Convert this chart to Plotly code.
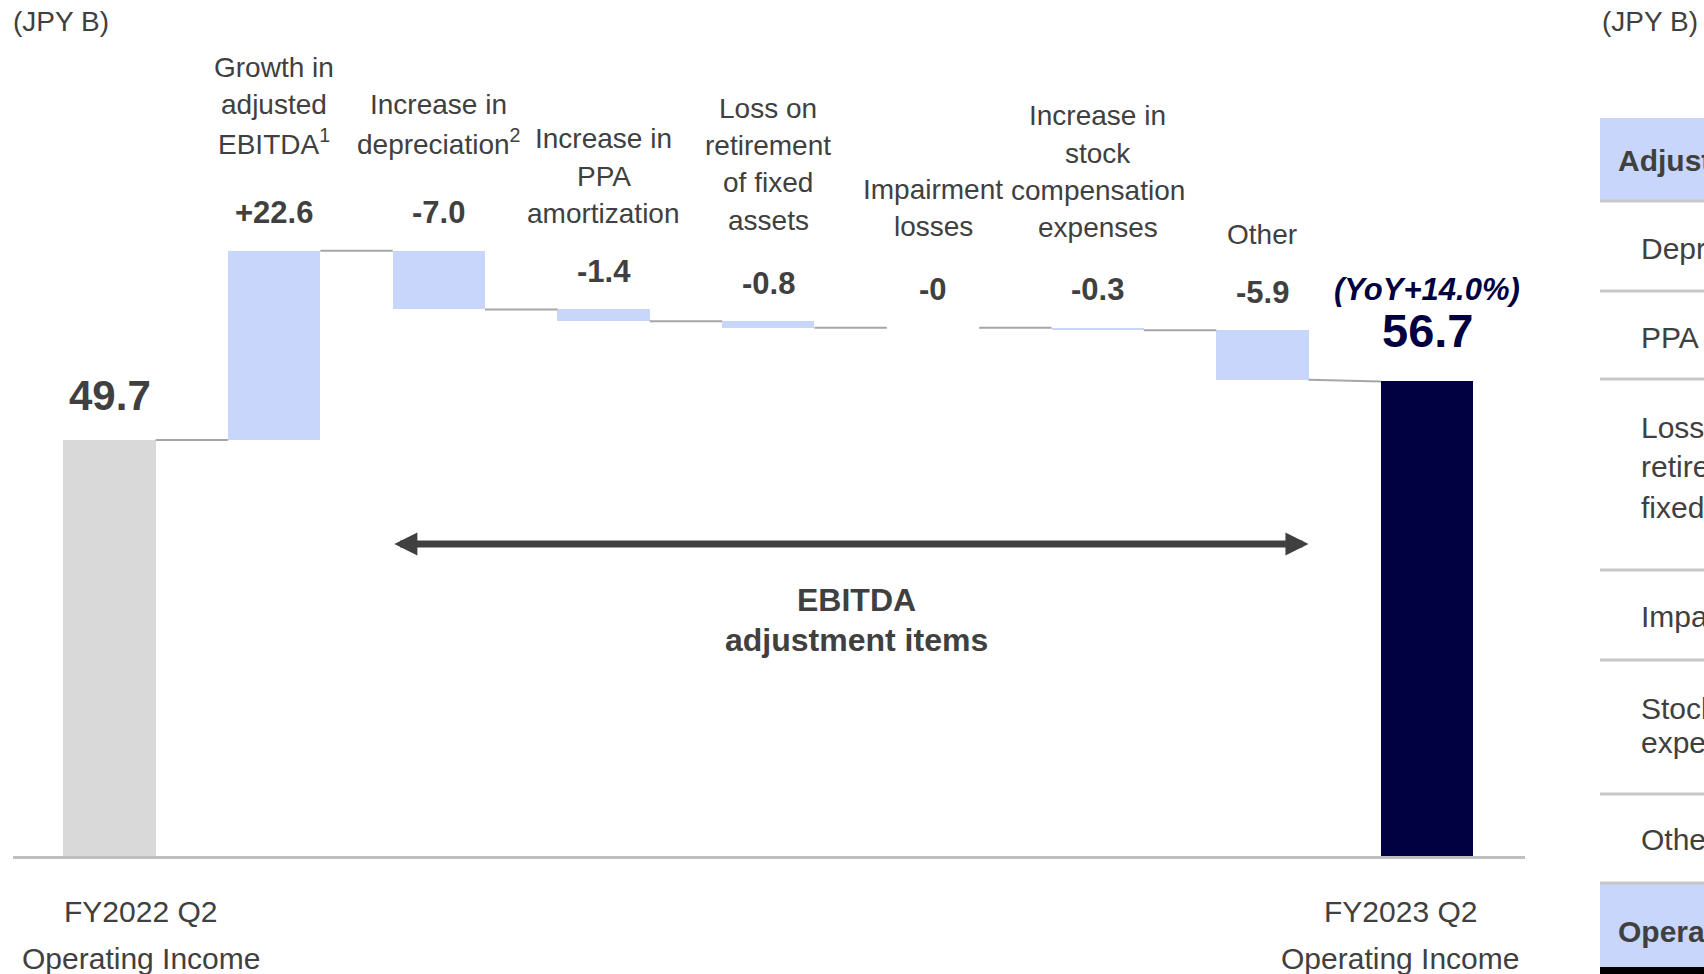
import numpy as np
import plotly.graph_objects as go

# ---------------- data (JPY B) ----------------
start_label = ["FY2022 Q2", "Operating Income"]
end_label = ["FY2023 Q2", "Operating Income"]
start_value = 49.7
end_value = 56.7
yoy_text = "(YoY+14.0%)"

bridge_labels = [
    ["Growth in", "adjusted", "EBITDA<sup>1</sup>"],
    ["Increase in", "depreciation<sup>2</sup>"],
    ["Increase in", "PPA", "amortization"],
    ["Loss on", "retirement", "of fixed", "assets"],
    ["Impairment", "losses"],
    ["Increase in", "stock", "compensation", "expenses"],
    ["Other"],
]
bridge_values = [22.6, -7.0, -1.4, -0.8, 0.0, -0.3, -5.9]
bridge_value_text = ["+22.6", "-7.0", "-1.4", "-0.8", "-0", "-0.3", "-5.9"]

unit_text = "(JPY B)"
table_header = "Adjusted EBITDA"
table_rows = [
    ["Depreciation"],
    ["PPA amortization"],
    ["Loss on", "retirement of", "fixed assets"],
    ["Impairment losses"],
    ["Stock compensation", "expenses"],
    ["Other"],
]
table_footer = "Operating income"

# ---------------- styling / geometry ----------------
W, H = 1704, 974
FONT = "Liberation Sans, Arial, sans-serif"
TXT = "#404040"
NAVY = "#000040"
GREY_BAR = "#d9d9d9"
BLUE_BAR = "#c9d6fc"
CONNECT = "#a6a6a6"
RULE = "#c8c8c8"

PLOT_L, PLOT_R = 13, 1525          # horizontal extent of the bridge axis (px)
BASE_PX = 856                      # pixel row of the zero line
PX_PER_UNIT = 8.37
FIRST_CENTER_PX = 109.5
CAT_STEP_PX = 164.7
BAR_W = 0.56

x_lo = -(FIRST_CENTER_PX - PLOT_L) / CAT_STEP_PX
x_hi = x_lo + (PLOT_R - PLOT_L) / CAT_STEP_PX
y_hi = BASE_PX / PX_PER_UNIT


def px_to_y(py):
    return (BASE_PX - py) / PX_PER_UNIT


def paper_x(px):
    return (px - PLOT_L) / (PLOT_R - PLOT_L)


def paper_y(py):
    return (BASE_PX - py) / BASE_PX


# ---------------- waterfall geometry ----------------
vals = np.array(bridge_values)
levels = start_value + np.cumsum(vals)
prev = np.concatenate([[start_value], levels[:-1]])

n = len(vals) + 2
xs = list(range(n))
heights = [start_value] + list(vals) + [end_value]
bases = [0] + list(prev) + [0]
colors = [GREY_BAR] + [BLUE_BAR] * len(vals) + [NAVY]

fig = go.Figure()
fig.add_trace(go.Bar(
    x=xs, y=heights, base=bases, width=BAR_W,
    marker=dict(color=colors, line=dict(width=0)),
    hoverinfo="skip",
))

# connector lines between consecutive bars
bar_end = [start_value] + list(levels)
bar_start_next = list(prev) + [end_value]
cx, cy = [], []
for i in range(n - 1):
    cx += [i + BAR_W / 2, i + 1 - BAR_W / 2, None]
    cy += [bar_end[i], bar_start_next[i], None]
fig.add_trace(go.Scatter(x=cx, y=cy, mode="lines",
                         line=dict(color=CONNECT, width=2), hoverinfo="skip"))

ann = []

# value labels over the bridge bars
tops = np.maximum(prev, levels)
for k, (t, lab) in enumerate(zip(tops, bridge_value_text)):
    ann.append(dict(x=k + 1, y=t, xref="x", yref="y", text=f"<b>{lab}</b>",
                    showarrow=False, yanchor="middle", yshift=38,
                    font=dict(size=31, color=TXT)))

# category captions, stacked line by line above each value label
CAT_GAP = [109, 109, 96, 101, 101, 100, 96]
LINE_STEP = 37.3
for k, (t, lines) in enumerate(zip(tops, bridge_labels)):
    m = len(lines)
    for j, line in enumerate(lines):
        ann.append(dict(x=k + 1, y=t, xref="x", yref="y", text=line,
                        showarrow=False, yanchor="middle",
                        yshift=CAT_GAP[k] + (m - 1 - j) * LINE_STEP,
                        font=dict(size=28, color=TXT)))

# start / end totals
ann.append(dict(x=0, y=start_value, xref="x", yref="y",
                text=f"<b>{start_value:.1f}</b>", showarrow=False,
                yanchor="middle", yshift=45, font=dict(size=42, color=TXT)))
ann.append(dict(x=n - 1, y=end_value, xref="x", yref="y",
                text=f"<b>{end_value:.1f}</b>", showarrow=False,
                yanchor="middle", yshift=51, font=dict(size=47, color=NAVY)))
ann.append(dict(x=n - 1, y=end_value, xref="x", yref="y",
                text=f"<b><i>{yoy_text}</i></b>", showarrow=False,
                yanchor="middle", yshift=92, font=dict(size=31, color=NAVY)))

# period captions under the axis
for xi, lines, xs_shift in [(0, start_label, 31), (n - 1, end_label, -27)]:
    for j, line in enumerate(lines):
        ann.append(dict(x=xi, y=0, xref="x", yref="y", text=line,
                        showarrow=False, yanchor="middle", xshift=xs_shift,
                        yshift=-55 - 47 * j, font=dict(size=30, color=TXT)))

# double-headed bracket spanning the EBITDA adjustment items
arrow_y = px_to_y(544)
ann.append(dict(x=7 + BAR_W / 2, y=arrow_y, ax=2 - BAR_W / 2, ay=arrow_y,
                xref="x", yref="y", axref="x", ayref="y", text="",
                showarrow=True, arrowside="end+start",
                arrowhead=2, startarrowhead=2, arrowwidth=7,
                arrowsize=0.66, startarrowsize=0.66, arrowcolor=TXT))
for j, line in enumerate(["EBITDA", "adjustment items"]):
    ann.append(dict(x=4.5, y=arrow_y, xref="x", yref="y", text=f"<b>{line}</b>",
                    showarrow=False, yanchor="middle", xshift=6,
                    yshift=-56 - 40 * j, font=dict(size=32, color=TXT)))

# unit captions
for ux in (11, 1600):
    ann.append(dict(x=paper_x(ux), y=paper_y(22), xref="paper", yref="paper",
                    text=unit_text, showarrow=False, xanchor="left",
                    yanchor="middle", font=dict(size=28, color=TXT)))

# reconciliation table on the right
shapes = []
TBL_L, TBL_R = 1600, 1760
shapes.append(dict(type="rect", xref="paper", yref="paper",
                   x0=paper_x(TBL_L), x1=paper_x(TBL_R),
                   y0=paper_y(200), y1=paper_y(118),
                   fillcolor=BLUE_BAR, line=dict(width=0), layer="below"))
shapes.append(dict(type="rect", xref="paper", yref="paper",
                   x0=paper_x(TBL_L), x1=paper_x(TBL_R),
                   y0=paper_y(967), y1=paper_y(883),
                   fillcolor=BLUE_BAR, line=dict(width=0), layer="below"))
shapes.append(dict(type="rect", xref="paper", yref="paper",
                   x0=paper_x(TBL_L), x1=paper_x(TBL_R),
                   y0=paper_y(980), y1=paper_y(967),
                   fillcolor="#000000", line=dict(width=0)))
for ry in [201, 291, 379, 570, 660, 794, 883]:
    shapes.append(dict(type="line", xref="paper", yref="paper",
                       x0=paper_x(TBL_L), x1=paper_x(TBL_R),
                       y0=paper_y(ry), y1=paper_y(ry),
                       line=dict(color=RULE, width=3)))

ann.append(dict(x=paper_x(1616), y=paper_y(160), xref="paper", yref="paper",
                text=f"<b>{table_header}</b>", showarrow=False,
                xanchor="left", yanchor="middle", font=dict(size=30, color=TXT)))
row_line_y = [[248], [337], [427, 467, 507], [617], [708, 742], [839]]
for lines, ys in zip(table_rows, row_line_y):
    for line, yy in zip(lines, ys):
        ann.append(dict(x=paper_x(1639), y=paper_y(yy), xref="paper", yref="paper",
                        text=line, showarrow=False, xanchor="left",
                        yanchor="middle", font=dict(size=30, color=TXT)))
ann.append(dict(x=paper_x(1616), y=paper_y(931), xref="paper", yref="paper",
                text=f"<b>{table_footer}</b>", showarrow=False,
                xanchor="left", yanchor="middle", font=dict(size=30, color=TXT)))

fig.update_layout(
    width=W, height=H,
    margin=dict(l=PLOT_L, r=W - PLOT_R, t=0, b=H - BASE_PX, pad=0),
    paper_bgcolor="white", plot_bgcolor="white",
    showlegend=False, bargap=0,
    font=dict(family=FONT, color=TXT),
    xaxis=dict(range=[x_lo, x_hi], showticklabels=False, showgrid=False,
               zeroline=False, ticks="", showline=True,
               linecolor="#bfbfbf", linewidth=3, fixedrange=True),
    yaxis=dict(range=[0, y_hi], visible=False, fixedrange=True),
    annotations=ann, shapes=shapes,
)

fig.write_html("out.html", config={"displayModeBar": False})
